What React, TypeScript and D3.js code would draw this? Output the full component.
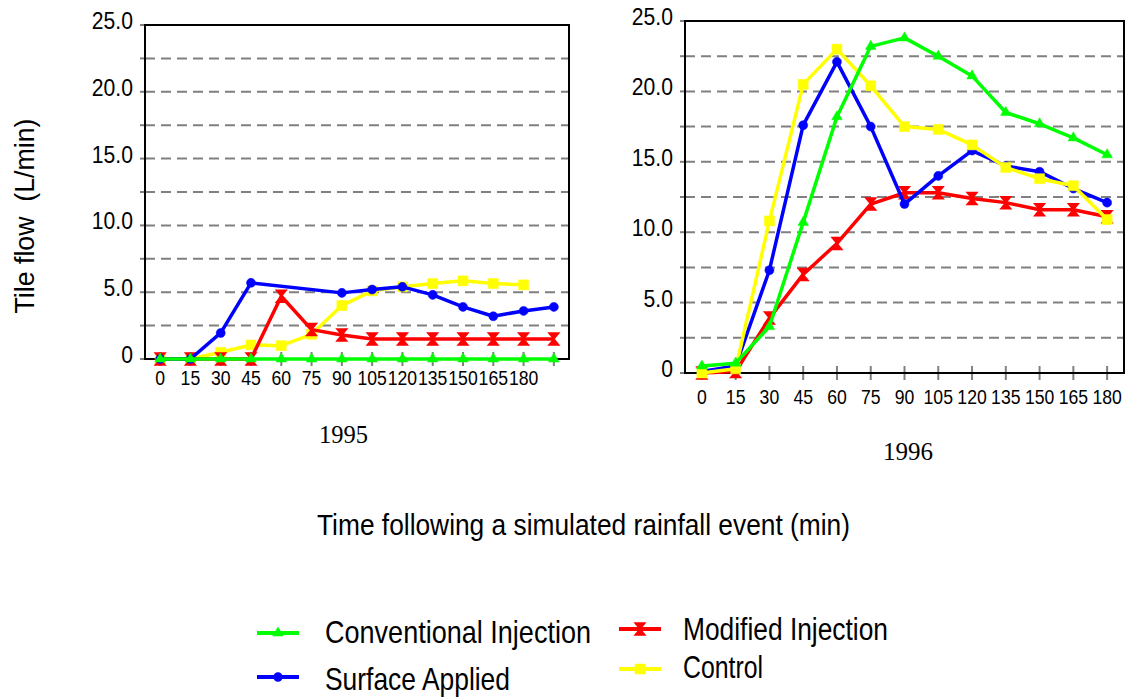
import React from "react";
import * as d3 from "d3";

// time labels (min)
const times = ["0", "15", "30", "45", "60", "75", "90", "105", "120", "135", "150", "165", "180"];
// 1995 axis has one extra, unlabelled slot
const slots1995 = [...times, "195"];

// 1995 tile flow (L/min)
const conv1995 = [0, 0, 0, 0, 0, 0, 0, 0, 0, 0, 0, 0, 0, 0];
const surf1995 = [0, 0, 1.95, 5.7, null, null, 4.95, 5.2, 5.4, 4.8, 3.9, 3.2, 3.6, 3.9];
const mod1995 = [0, 0, 0, 0, 4.7, 2.2, 1.8, 1.5, 1.5, 1.5, 1.5, 1.5, 1.5, 1.5];
const ctrl1995 = [0, 0, 0.5, 1.05, 1.0, 1.85, 4.0, 5.1, 5.4, 5.65, 5.85, 5.65, 5.55, null];

// 1996 tile flow (L/min)
const conv1996 = [0.5, 0.7, 3.3, 10.7, 18.2, 23.2, 23.8, 22.5, 21.1, 18.5, 17.7, 16.7, 15.5];
const surf1996 = [0.1, 0.5, 7.3, 17.6, 22.1, 17.5, 12.0, 14.0, 15.8, 14.7, 14.3, 13.1, 12.1];
const mod1996 = [0, 0.1, 3.9, 7.0, 9.2, 12.0, 12.8, 12.8, 12.4, 12.1, 11.6, 11.6, 11.1];
const ctrl1996 = [0, 0.3, 10.8, 20.5, 23.0, 20.4, 17.5, 17.3, 16.2, 14.6, 13.8, 13.3, 10.9];

const yTicks = [0, 5, 10, 15, 20, 25];
const yMinor = [2.5, 7.5, 12.5, 17.5, 22.5];

const SANS = "'Liberation Sans', Arial, sans-serif";
const SERIF = "'Liberation Serif', 'Times New Roman', serif";

const GREEN = "#00ff00";
const BLUE = "#0000ff";
const RED = "#ff0000";
const YELLOW = "#ffff00";

type Kind = "triangle" | "circle" | "hourglass" | "square";

const markerPath = (kind: Kind): string => {
  if (kind === "triangle") return d3.symbol(d3.symbolTriangle, 48)() as string;
  if (kind === "circle") return d3.symbol(d3.symbolCircle, 64)() as string;
  if (kind === "square") return d3.symbol(d3.symbolSquare, 100)() as string;
  // two triangles tip to tip
  return "M-5,-6L5,-6L0,0L5,6L-5,6L0,0Z";
};

const Marker = ({ kind, x, y, color }: { kind: Kind; x: number; y: number; color: string }) => (
  <path d={markerPath(kind)} transform={`translate(${x},${y})`} fill={color} stroke={color} strokeWidth={kind === "hourglass" ? 1.5 : 0.5} />
);

type Series = { values: (number | null)[]; color: string; kind: Kind };

const Panel = ({
  slots,
  series,
  x0,
  x1,
  yTop,
  yBot,
  labelDy,
}: {
  slots: string[];
  series: Series[];
  x0: number;
  x1: number;
  yTop: number;
  yBot: number;
  labelDy: number;
}) => {
  const x = d3.scaleBand<string>().domain(slots).range([x0, x1]);
  const cx = (s: string) => (x(s) as number) + x.bandwidth() / 2;
  const y = d3.scaleLinear().domain([0, 25]).range([yBot, yTop]);

  return (
    <g>
      {/* gridlines */}
      {[...yMinor, 5, 10, 15, 20].map((v) => (
        <line key={"g" + v} x1={x0} x2={x1} y1={y(v)} y2={y(v)} stroke="#808080" strokeWidth={2} strokeDasharray="10,6" />
      ))}
      {/* y ticks */}
      {[...yTicks, ...yMinor].map((v) => (
        <line key={"yt" + v} x1={x0 - 5} x2={x0} y1={y(v)} y2={y(v)} stroke="#808080" strokeWidth={2} />
      ))}
      {yTicks.map((v) => (
        <text
          key={"yl" + v}
          transform={`translate(${x0 - 12},${y(v) + 4}) scale(0.92,1)`}
          textAnchor="end"
          fontFamily={SANS}
          fontSize={23}
          fill="#000"
        >
          {v === 0 ? "0" : v.toFixed(1)}
        </text>
      ))}
      {/* x ticks */}
      {slots.map((s) => (
        <line key={"xt" + s} x1={cx(s)} x2={cx(s)} y1={yBot - 7} y2={yBot + 7} stroke="#808080" strokeWidth={2} />
      ))}
      {times.map((s) => (
        <text
          key={"xl" + s}
          transform={`translate(${cx(s)},${yBot + labelDy}) scale(0.84,1)`}
          textAnchor="middle"
          fontFamily={SANS}
          fontSize={21}
          fill="#000"
        >
          {s}
        </text>
      ))}
      {/* frame */}
      <rect x={x0} y={yTop} width={x1 - x0} height={yBot - yTop} fill="none" stroke="#000" strokeWidth={2} />
      {/* series */}
      {series.map((se, i) => {
        const pts = slots
          .map((s, k) => ({ s, v: se.values[k] }))
          .filter((p) => p.v !== null && p.v !== undefined) as { s: string; v: number }[];
        const line = d3
          .line<{ s: string; v: number }>()
          .x((p) => cx(p.s))
          .y((p) => y(p.v));
        return (
          <g key={"s" + i}>
            <path d={line(pts) as string} fill="none" stroke={se.color} strokeWidth={3.5} strokeLinejoin="round" />
            {pts.map((p) => (
              <Marker key={p.s} kind={se.kind} x={cx(p.s)} y={y(p.v)} color={se.color} />
            ))}
          </g>
        );
      })}
    </g>
  );
};

const legendItems = [
  { label: "Conventional Injection", color: GREEN, kind: "triangle" as Kind, lx: 257, ly: 633, tx: 325, ty: 643, fs: 32, tl: 266 },
  { label: "Surface Applied", color: BLUE, kind: "circle" as Kind, lx: 257, ly: 677, tx: 325, ty: 690, fs: 32, tl: 185 },
  { label: "Modified Injection", color: RED, kind: "hourglass" as Kind, lx: 619, ly: 629, tx: 683, ty: 640, fs: 31, tl: 205 },
  { label: "Control", color: YELLOW, kind: "square" as Kind, lx: 619, ly: 669, tx: 683, ty: 678, fs: 31, tl: 80 },
];

export default function App() {
  const s1995: Series[] = [
    { values: ctrl1995, color: YELLOW, kind: "square" },
    { values: mod1995, color: RED, kind: "hourglass" },
    { values: surf1995, color: BLUE, kind: "circle" },
    { values: conv1995, color: GREEN, kind: "triangle" },
  ];
  const s1996: Series[] = [
    { values: mod1996, color: RED, kind: "hourglass" },
    { values: surf1996, color: BLUE, kind: "circle" },
    { values: ctrl1996, color: YELLOW, kind: "square" },
    { values: conv1996, color: GREEN, kind: "triangle" },
  ];

  return (
    <svg width={1128} height={698} style={{ position: "absolute", left: 0, top: 0, background: "#fff" }}>
      <Panel slots={slots1995} series={s1995} x0={145} x1={569} yTop={25} yBot={359} labelDy={26} />
      <Panel slots={times} series={s1996} x0={685} x1={1124} yTop={21} yBot={373} labelDy={31} />

      <text
        transform="translate(34,216) rotate(-90)"
        textAnchor="middle"
        fontFamily={SANS}
        fontSize={28}
        textLength={195}
        lengthAdjust="spacingAndGlyphs"
        fill="#000"
        style={{ whiteSpace: "pre" }}
      >
        {"Tile flow  (L/min)"}
      </text>

      <text x={319} y={443} fontFamily={SERIF} fontSize={26} textLength={49} lengthAdjust="spacingAndGlyphs" fill="#000">
        1995
      </text>
      <text x={883} y={460} fontFamily={SERIF} fontSize={26} textLength={50} lengthAdjust="spacingAndGlyphs" fill="#000">
        1996
      </text>

      <text x={317} y={535} fontFamily={SANS} fontSize={29} textLength={533} lengthAdjust="spacingAndGlyphs" fill="#000">
        Time following a simulated rainfall event (min)
      </text>

      {legendItems.map((it) => (
        <g key={it.label}>
          <line x1={it.lx} x2={it.lx + 42} y1={it.ly} y2={it.ly} stroke={it.color} strokeWidth={4} />
          <Marker kind={it.kind} x={it.lx + 21} y={it.ly} color={it.color} />
          <text x={it.tx} y={it.ty} fontFamily={SANS} fontSize={it.fs} textLength={it.tl} lengthAdjust="spacingAndGlyphs" fill="#000">
            {it.label}
          </text>
        </g>
      ))}
    </svg>
  );
}
